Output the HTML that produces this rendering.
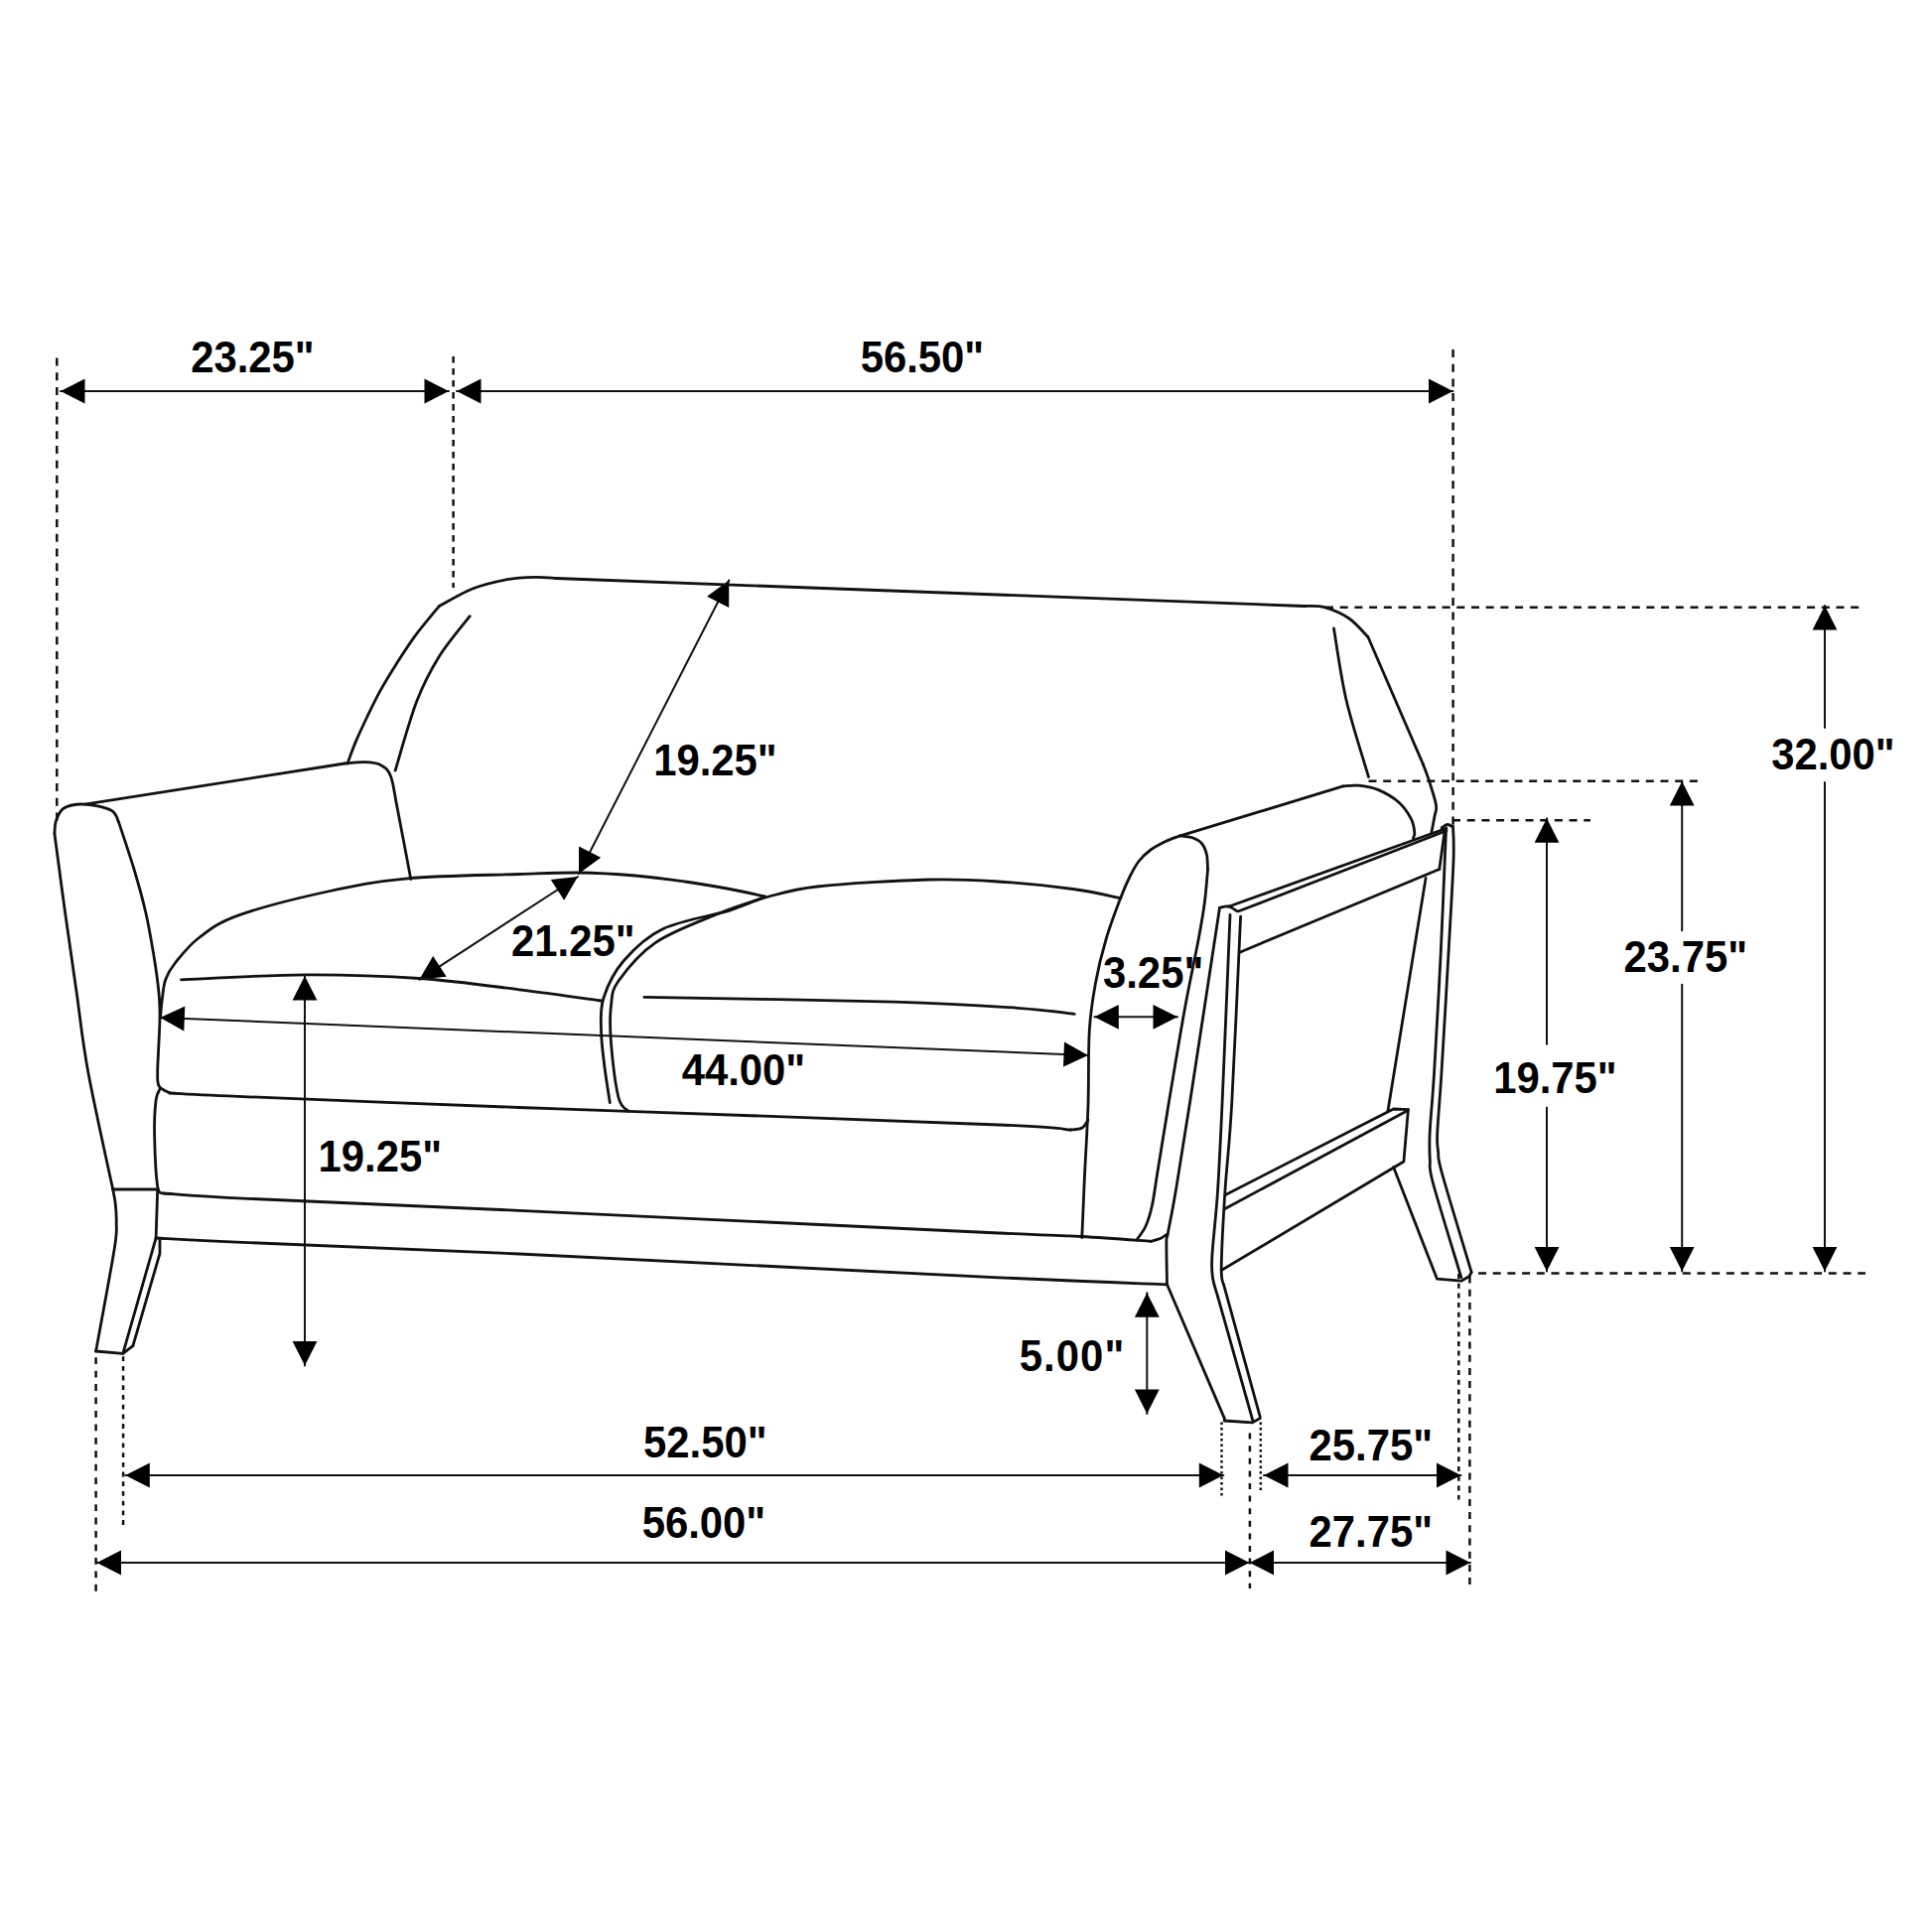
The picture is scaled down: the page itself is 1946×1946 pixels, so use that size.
<!DOCTYPE html>
<html><head><meta charset="utf-8"><style>
html,body{margin:0;padding:0;background:#fff;width:1946px;height:1946px;overflow:hidden}
svg{display:block}
text{font-family:"Liberation Sans",sans-serif;font-weight:bold;fill:#000;stroke:none}
</style></head><body>
<svg width="1946" height="1946" viewBox="0 0 1946 1946">
<rect width="1946" height="1946" fill="#fff"/>
<g fill="none" stroke="#111" stroke-linecap="round" stroke-linejoin="round">
<line x1="57.3" y1="360.4" x2="57.3" y2="828" stroke-width="2.5" stroke-dasharray="8 6.78" stroke-linecap="butt"/>
<line x1="456.6" y1="359" x2="456.6" y2="592" stroke-width="2.5" stroke-dasharray="6.5 5.5" stroke-linecap="butt"/>
<line x1="1463.6" y1="352" x2="1463.6" y2="836" stroke-width="2.5" stroke-dasharray="8 6.7" stroke-linecap="butt"/>
<line x1="61" y1="394" x2="452" y2="394" stroke-width="2.0"/>
<polygon points="452,394 427.5,406.4 427.5,381.6" fill="#000" stroke="none"/>
<polygon points="61,394 85.5,381.6 85.5,406.4" fill="#000" stroke="none"/>
<line x1="460" y1="394" x2="1463.5" y2="394" stroke-width="2.0"/>
<polygon points="1463.5,394 1439,406.4 1439,381.6" fill="#000" stroke="none"/>
<polygon points="460,394 484.5,381.6 484.5,406.4" fill="#000" stroke="none"/>
<text transform="translate(192.2,374.5) scale(0.94,1)" font-size="44.5">23.25&quot;</text>
<text transform="translate(866.7,375.3) scale(0.94,1)" font-size="44.5">56.50&quot;</text>
<line x1="1335" y1="611.8" x2="1876" y2="611.8" stroke-width="2.5" stroke-dasharray="8 6.7" stroke-linecap="butt"/>
<line x1="1378.5" y1="786.8" x2="1713" y2="786.8" stroke-width="2.5" stroke-dasharray="8 6.7" stroke-linecap="butt"/>
<line x1="1463" y1="826.2" x2="1602" y2="826.2" stroke-width="2.5" stroke-dasharray="8 6.7" stroke-linecap="butt"/>
<line x1="1489" y1="1282.4" x2="1879" y2="1282.4" stroke-width="2.5" stroke-dasharray="8 6.7" stroke-linecap="butt"/>
<line x1="1838" y1="610" x2="1838" y2="733" stroke-width="2.0"/>
<line x1="1838" y1="788" x2="1838" y2="1280.5" stroke-width="2.0"/>
<polygon points="1838,610 1850.4,634.5 1825.6,634.5" fill="#000" stroke="none"/>
<polygon points="1838,1280.5 1825.6,1256 1850.4,1256" fill="#000" stroke="none"/>
<text transform="translate(1784.2,774.6) scale(0.94,1)" font-size="44.5">32.00&quot;</text>
<line x1="1694.2" y1="787" x2="1694.2" y2="937.3" stroke-width="2.0"/>
<line x1="1694.2" y1="991.8" x2="1694.2" y2="1280.5" stroke-width="2.0"/>
<polygon points="1694.2,787 1706.6,811.5 1681.8,811.5" fill="#000" stroke="none"/>
<polygon points="1694.2,1280.5 1681.8,1256 1706.6,1256" fill="#000" stroke="none"/>
<text transform="translate(1635.5,979.4) scale(0.94,1)" font-size="44.5">23.75&quot;</text>
<line x1="1558" y1="824.3" x2="1558" y2="1051.8" stroke-width="2.0"/>
<line x1="1558" y1="1115.5" x2="1558" y2="1280.5" stroke-width="2.0"/>
<polygon points="1558,824.3 1570.4,848.8 1545.6,848.8" fill="#000" stroke="none"/>
<polygon points="1558,1280.5 1545.6,1256 1570.4,1256" fill="#000" stroke="none"/>
<text transform="translate(1504.2,1101.4) scale(0.94,1)" font-size="44.5">19.75&quot;</text>
<line x1="307" y1="983" x2="307" y2="1375.5" stroke-width="2.0"/>
<polygon points="307,1375.5 294.6,1351 319.4,1351" fill="#000" stroke="none"/>
<polygon points="307,983 319.4,1007.5 294.6,1007.5" fill="#000" stroke="none"/>
<text transform="translate(320.5,1179.6) scale(0.94,1)" font-size="44.5">19.25&quot;</text>
<line x1="1155.3" y1="1302.3" x2="1155.3" y2="1424" stroke-width="2.0"/>
<polygon points="1155.3,1424 1142.9,1399.5 1167.7,1399.5" fill="#000" stroke="none"/>
<polygon points="1155.3,1302.3 1167.7,1326.8 1142.9,1326.8" fill="#000" stroke="none"/>
<text transform="translate(1026.7,1380.6) scale(0.94,1)" font-size="44.5" letter-spacing="1.15">5.00&quot;</text>
<line x1="734.3" y1="584.5" x2="583" y2="880" stroke-width="2.0"/>
<polygon points="583,880 583.1,852.5 605.2,863.8" fill="#000" stroke="none"/>
<polygon points="734.3,584.5 734.2,612 712.1,600.7" fill="#000" stroke="none"/>
<text transform="translate(658.2,780.9) scale(0.94,1)" font-size="44.5">19.25&quot;</text>
<line x1="582" y1="883" x2="422.4" y2="986.6" stroke-width="2.0"/>
<polygon points="422.4,986.6 436.2,962.9 449.7,983.7" fill="#000" stroke="none"/>
<polygon points="582,883 568.2,906.7 554.7,885.9" fill="#000" stroke="none"/>
<text transform="translate(515,962.6) scale(0.94,1)" font-size="44.5">21.25&quot;</text>
<line x1="161.3" y1="1025" x2="1096" y2="1063" stroke-width="2.0"/>
<polygon points="1096,1063 1071,1074.4 1072,1049.6" fill="#000" stroke="none"/>
<polygon points="161.3,1025 186.3,1013.6 185.3,1038.4" fill="#000" stroke="none"/>
<text transform="translate(686.7,1092.6) scale(0.94,1)" font-size="44.5">44.00&quot;</text>
<line x1="1102.3" y1="1024.3" x2="1186" y2="1024.3" stroke-width="2.0"/>
<polygon points="1186,1024.3 1161.5,1036.7 1161.5,1011.9" fill="#000" stroke="none"/>
<polygon points="1102.3,1024.3 1126.8,1011.9 1126.8,1036.7" fill="#000" stroke="none"/>
<text transform="translate(1111,994.6) scale(0.94,1)" font-size="44.5">3.25&quot;</text>
<line x1="96.6" y1="1367.2" x2="96.6" y2="1603.5" stroke-width="2.5" stroke-dasharray="6.8 6.65" stroke-linecap="butt"/>
<line x1="124.1" y1="1366.2" x2="124.1" y2="1537" stroke-width="2.5" stroke-dasharray="4.8 4.9" stroke-linecap="butt"/>
<line x1="1230.5" y1="1432.5" x2="1230.5" y2="1508.5" stroke-width="2.5" stroke-dasharray="2.6 2.9" stroke-linecap="butt"/>
<line x1="1258.9" y1="1443.6" x2="1258.9" y2="1600" stroke-width="2.5" stroke-dasharray="6 6.6" stroke-linecap="butt"/>
<line x1="1269.8" y1="1432.5" x2="1269.8" y2="1504" stroke-width="2.5" stroke-dasharray="2.6 2.9" stroke-linecap="butt"/>
<line x1="1469.3" y1="1283" x2="1469.3" y2="1510.5" stroke-width="2.5" stroke-dasharray="5 4.7" stroke-linecap="butt"/>
<line x1="1480.4" y1="1285.5" x2="1480.4" y2="1596.6" stroke-width="2.5" stroke-dasharray="7 6.2" stroke-linecap="butt"/>
<line x1="126.3" y1="1486" x2="1232.3" y2="1486" stroke-width="2.0"/>
<polygon points="1232.3,1486 1207.8,1498.4 1207.8,1473.6" fill="#000" stroke="none"/>
<polygon points="126.3,1486 150.8,1473.6 150.8,1498.4" fill="#000" stroke="none"/>
<line x1="1273" y1="1486" x2="1471.5" y2="1486" stroke-width="2.0"/>
<polygon points="1471.5,1486 1447,1498.4 1447,1473.6" fill="#000" stroke="none"/>
<polygon points="1273,1486 1297.5,1473.6 1297.5,1498.4" fill="#000" stroke="none"/>
<line x1="97.5" y1="1574" x2="1258.5" y2="1574" stroke-width="2.0"/>
<polygon points="1258.5,1574 1234,1586.4 1234,1561.6" fill="#000" stroke="none"/>
<polygon points="97.5,1574 122,1561.6 122,1586.4" fill="#000" stroke="none"/>
<line x1="1258.5" y1="1574" x2="1481" y2="1574" stroke-width="2.0"/>
<polygon points="1481,1574 1456.5,1586.4 1456.5,1561.6" fill="#000" stroke="none"/>
<polygon points="1258.5,1574 1283,1561.6 1283,1586.4" fill="#000" stroke="none"/>
<text transform="translate(648,1468.1) scale(0.94,1)" font-size="44.5">52.50&quot;</text>
<text transform="translate(1318.5,1470.6) scale(0.94,1)" font-size="44.5">25.75&quot;</text>
<text transform="translate(646.7,1549.4) scale(0.94,1)" font-size="44.5">56.00&quot;</text>
<text transform="translate(1318.5,1558.1) scale(0.94,1)" font-size="44.5">27.75&quot;</text>
<path d="M350,769.1 C351.4,765.3 355.2,754.4 358.6,746.4 C362,738.4 366.2,729.6 370.2,721.2 C374.2,712.8 378.2,704.5 382.8,696.1 C387.4,687.7 392,680.1 397.9,670.9 C403.8,661.7 410.6,650.8 418,640.7 C425.4,630.6 438.4,615.5 442.5,610.4" stroke-width="2.8"/>
<path d="M442.5,610.4 C448.2,607.5 465.2,597.2 476.6,592.8 C488,588.3 500.4,585.6 510.8,583.7 C521.2,581.8 531.1,581.6 539.3,581.4 C547.5,581.2 556.5,582.3 560,582.5" stroke-width="2.8"/>
<polyline points="560,582.5 1313.5,610.5" stroke-width="2.8"/>
<path d="M1313.5,610.5 C1316.9,610.7 1326.4,609.5 1334,611.6 C1341.6,613.7 1351.7,618 1359,623 C1366.3,628 1374.8,638.6 1378,641.7" stroke-width="2.8"/>
<polyline points="1378,641.7 1433.5,770" stroke-width="2.8"/>
<path d="M1433.5,770 C1434.5,772.8 1437.3,779.8 1439.5,786.6 C1441.7,793.4 1445.6,805.1 1446.5,811 C1447.4,816.9 1445.8,817.5 1445,822 C1444.2,826.5 1442.4,835.6 1441.9,838.3" stroke-width="2.8"/>
<path d="M398.1,776.1 C401.7,764.5 412.3,725.8 419.7,706.6 C427.1,687.4 433.6,675.4 442.5,661.1 C451.4,646.8 468.1,627.4 473.2,620.7" stroke-width="2.8"/>
<path d="M1343.5,633 C1345.6,645 1350.2,680.1 1356,705 C1361.8,729.9 1374.8,769.6 1378.5,782.5" stroke-width="2.8"/>
<path d="M54.9,839.5 C55.2,837.3 55,830.6 56.6,826.3 C58.2,822 60,816.5 64.8,813.8 C69.6,811.1 77.6,809.7 85.5,810.1 C93.4,810.5 106.3,813.3 112,816.3 C117.7,819.3 118.2,826 119.5,827.9" stroke-width="2.8"/>
<polyline points="85.5,810.1 347.5,769" stroke-width="2.8"/>
<path d="M347.5,769 C350.8,768.8 361.3,767.4 367.3,767.6 C373.3,767.8 378.9,768 383.3,770.4 C387.7,772.8 390.7,774.7 393.5,781.8 C396.3,788.9 396.6,795.7 400,813 C403.4,830.3 411.5,873.4 413.8,885.5" stroke-width="2.8"/>
<path d="M54.9,839.5 C55.8,846.2 58.5,866.6 60.3,880 C62.1,893.4 62.9,900 65.7,920 C68.5,940 73.4,973.3 77.2,1000 C81,1026.7 82.7,1047 88.8,1080 C94.9,1113 109.5,1178.3 113.7,1198" stroke-width="2.8"/>
<path d="M113.7,1198 C114.1,1200.5 115.7,1207.3 116.3,1213 C116.9,1218.7 117.4,1224.5 117.2,1232 C117,1239.5 118.6,1236.5 115.2,1258 C111.8,1279.5 99.7,1343.8 96.6,1361" stroke-width="2.8"/>
<polyline points="96.6,1361 123.8,1363.4 133.9,1355.6" stroke-width="2.8"/>
<polyline points="123.8,1363.4 157.1,1247" stroke-width="2.8"/>
<polyline points="133.9,1355.6 161,1262.5 161,1247.7" stroke-width="2.8"/>
<path d="M119.5,827.9 C122.1,835.8 130.4,860.1 135,875.5 C139.6,890.9 143.7,905.4 147,920 C150.3,934.6 152.8,949.7 155,963 C157.2,976.3 159,989.7 160,1000 C161,1010.3 161.1,1015 161,1025 C160.9,1035 159.9,1050.8 159.5,1060 C159.1,1069.2 158.6,1074.3 158.7,1080 C158.8,1085.7 158.1,1090.5 160.2,1094 C162.3,1097.5 169.3,1099.8 171.1,1101" stroke-width="2.8"/>
<polyline points="113.7,1198 158.7,1198" stroke-width="2.8"/>
<path d="M161.5,1025 C161.8,1021.7 162.6,1011.4 163.5,1005 C164.4,998.6 164.7,992.3 166.8,986.5 C169,980.7 170.8,977 176.4,970 C182,963 189.9,952.5 200.5,944.5 C211.1,936.5 218.2,929.9 239.8,922.1 C261.4,914.4 301.5,904.2 330,898 C358.5,891.8 378.4,887.7 410.6,884.8 C442.8,881.9 494.3,881.5 523,880.5 C551.7,879.5 563.5,878.8 583,879 C602.5,879.2 622.2,880.5 640,882 C657.8,883.5 674.2,885.8 690,888 C705.8,890.2 721.6,893 735,895.5 C748.4,898 764.6,901.8 770.5,903" stroke-width="2.8"/>
<path d="M770.5,903 C764.7,905.3 752.6,911.4 735.5,916.8 C718.4,922.2 685.9,927 668,935.5 C650.1,944 638,956.4 628,968 C618,979.6 611.8,993.3 608,1005 C604.2,1016.7 605.3,1026.3 605.5,1038 C605.7,1049.7 607.5,1062.9 609,1075 C610.5,1087.1 613.4,1104.6 614.3,1110.5" stroke-width="2.8"/>
<path d="M182.5,986.8 C203.3,986 267.5,982 307.5,981.8 C347.5,981.6 386.6,983 422.5,985.5 C458.4,988 492.5,993 523,996.8 C553.5,1000.5 591.8,1006.1 605.5,1008" stroke-width="2.8"/>
<path d="M171.1,1101 C184.2,1101.6 191.3,1102.4 250,1104.8 C308.6,1107.2 459.2,1113.1 523,1115.5 C586.8,1117.9 552.5,1116.4 633,1119.3 C713.5,1122.2 931.8,1129.9 1006,1133 C1080.2,1136.1 1066.4,1137.2 1078.5,1138" stroke-width="2.8"/>
<path d="M1078.5,1138 C1080.4,1137.7 1087.1,1137.7 1090,1136 C1092.9,1134.3 1095,1129.3 1096,1128" stroke-width="2.8"/>
<path d="M770.5,904 C779.2,902.2 795.5,896 823,893 C850.5,890 905,886.8 935.5,886 C966,885.2 981.8,886.4 1006,888 C1030.2,889.6 1060.5,892.7 1081,895.5 C1101.5,898.3 1121,903.1 1129,904.6" stroke-width="2.8"/>
<path d="M770.5,904 C762.6,906.8 741.3,913 723,920.5 C704.7,928 677.2,938 660.5,949.3 C643.8,960.5 630.5,977.4 623,988 C615.5,998.6 616.8,1002.6 615.5,1013 C614.2,1023.4 614.2,1035.1 615.5,1050.5 C616.8,1065.9 620.1,1094 623,1105.5 C625.9,1117 631.3,1117 633,1119.3" stroke-width="2.8"/>
<path d="M648.9,1004.4 C690.9,1005.2 838,1007.3 900.6,1009.1 C963.2,1010.9 994.5,1013.3 1024.8,1015.3 C1055.1,1017.3 1072.6,1020.3 1082.2,1021.3" stroke-width="2.8"/>
<path d="M161,1097 C160.3,1098.8 158,1100.5 157.1,1108 C156.2,1115.5 155.3,1127.5 155.6,1142 C155.9,1156.5 157.1,1185 158.7,1195 C160.2,1205 163.9,1200.8 164.9,1202" stroke-width="2.8"/>
<path d="M164.9,1202 C179.1,1202.9 190.3,1204.4 250,1207.3 C309.7,1210.2 397,1213.5 523,1219.3 C649,1225.1 911.5,1237.6 1006,1242 C1100.5,1246.4 1064.2,1244.1 1089.8,1245.5 C1115.4,1246.9 1147.8,1249.5 1159.4,1250.3" stroke-width="2.8"/>
<path d="M1159.4,1250.3 C1161.1,1249.8 1166.5,1248.4 1169.3,1247.2 C1172.1,1246 1175,1243.6 1176.1,1242.9" stroke-width="2.8"/>
<polyline points="158.7,1198 157.1,1247" stroke-width="2.8"/>
<path d="M157.1,1247 C172.6,1247.8 189,1248.9 250,1251.6 C311,1254.3 397,1257.1 523,1263 C649,1268.9 897.2,1281.7 1006,1286.8 C1114.8,1291.9 1147.2,1292.6 1175.5,1293.8" stroke-width="2.8"/>
<polyline points="1188,842.2 1352.9,791.9" stroke-width="2.8"/>
<path d="M1352.9,791.9 C1355.5,791.8 1362.5,790.6 1368.3,791.2 C1374.1,791.8 1381,792.6 1387.8,795.4 C1394.5,798.2 1403.2,803.1 1408.8,808 C1414.4,812.9 1418.7,819.7 1421.4,824.8 C1424.1,829.9 1424.5,835.5 1424.8,838.7 C1425.1,842 1423.7,843.4 1423.5,844.3" stroke-width="2.8"/>
<path d="M1216.5,876 C1216.3,873.5 1216.5,865.4 1215.5,861 C1214.5,856.6 1212.8,852.4 1210.4,849.5 C1208,846.6 1204.6,845.1 1201,843.8 C1197.4,842.5 1190.7,842.1 1188.6,841.8" stroke-width="2.8"/>
<path d="M1188.6,841.8 C1186.2,842.8 1178.9,845.1 1174,847.5 C1169.1,849.9 1163.5,852.7 1159,856 C1154.5,859.3 1150.5,863 1147,867.5 C1143.5,872 1141,877 1138,883 C1135,889 1133,893.3 1129,903.8 C1125,914.3 1118.3,931.6 1114.1,946 C1109.8,960.4 1106.3,974.7 1103.5,990 C1100.7,1005.3 1098.5,1017.5 1097.3,1038 C1096,1058.5 1096.8,1088 1096,1113 C1095.2,1138 1093.3,1165.7 1092.3,1188 C1091.3,1210.3 1090.2,1236.8 1089.8,1246.6" stroke-width="2.8"/>
<path d="M1216.5,876 C1216,881.7 1214.8,898.3 1213.2,910 C1211.7,921.7 1210.5,928.3 1207.2,946 C1203.9,963.7 1198.3,989.1 1193.3,1016.4 C1188.3,1043.7 1182,1082.7 1177.4,1110 C1172.9,1137.3 1168.8,1162.7 1166,1180 C1163.2,1197.3 1162.5,1204.8 1160.5,1214 C1158.5,1223.2 1156.5,1229.4 1154,1235 C1151.5,1240.6 1147.1,1245.7 1145.7,1247.8" stroke-width="2.8"/>
<path d="M1228.5,914.3 C1223.5,946.9 1206,1062.4 1198.6,1110 C1191.2,1157.6 1188,1177.8 1184.2,1200 C1180.5,1222.2 1177.6,1234.8 1176.1,1243.5 C1174.5,1252.2 1175,1243.8 1174.9,1252.2 C1174.8,1260.6 1175.4,1286.9 1175.5,1293.8" stroke-width="2.8"/>
<polyline points="1175.5,1293.8 1233.3,1428.6 1233.3,1431" stroke-width="2.8"/>
<polyline points="1233.3,1431 1261.2,1432.9 1269.3,1428.6" stroke-width="2.8"/>
<path d="M1228.5,914.3 C1230,914.1 1234.4,912.3 1237.3,912.9 C1240.2,913.5 1244.6,917 1246.1,917.8" stroke-width="2.8"/>
<path d="M1239,921.4 C1237.7,952.8 1233.2,1063.6 1231.1,1110 C1229,1156.4 1228.2,1174.2 1226.5,1200 C1224.8,1225.8 1221.7,1250.1 1220.9,1264.6 C1220.1,1279.1 1220.6,1280.2 1221.5,1287 C1222.4,1293.8 1225.7,1302.5 1226.5,1305.6" stroke-width="2.8"/>
<polyline points="1226.5,1305.6 1261.9,1431" stroke-width="2.8"/>
<path d="M1249.6,923.1 C1248.1,954.2 1243.4,1063.8 1240.8,1110 C1238.2,1156.2 1235.7,1172.2 1233.9,1200 C1232.1,1227.8 1230.4,1261.3 1230.2,1277 C1230,1292.7 1232.3,1291.5 1232.7,1294.4" stroke-width="2.8"/>
<polyline points="1232.7,1294.4 1269.3,1427.3" stroke-width="2.8"/>
<polyline points="1237.3,913.3 1457,834.3" stroke-width="2.8"/>
<polyline points="1247.8,917.8 1456.9,836.8" stroke-width="2.8"/>
<polyline points="1248.7,959.2 1449.8,875.5" stroke-width="2.8"/>
<polyline points="1455,838 1449.8,875.5" stroke-width="2.8"/>
<path d="M1452,834 C1453,833.4 1456,830.6 1458,830.5 C1460,830.4 1462.8,832.7 1463.7,833.1" stroke-width="2.8"/>
<path d="M1456.5,836 C1455.6,856.7 1453.2,919.3 1451.2,960 C1449.2,1000.7 1446.4,1050 1444.6,1080 C1442.8,1110 1440.9,1125.3 1440.2,1140 C1439.5,1154.7 1439.8,1159.3 1440.3,1168 C1440.8,1176.7 1438.2,1172.2 1443.5,1192 C1448.8,1211.8 1467.1,1270.8 1471.8,1286.6" stroke-width="2.8"/>
<path d="M1463.5,832 C1463.6,837.8 1464.8,845.7 1464,867 C1463.2,888.3 1461,924.5 1459,960 C1457,995.5 1453.9,1050 1452,1080 C1450.1,1110 1448.4,1126.7 1447.8,1140 C1447.2,1153.3 1447.8,1153 1448.6,1160 C1449.4,1167 1446.9,1161.8 1452.5,1182 C1458.1,1202.2 1477.2,1264.8 1482.1,1281.4" stroke-width="2.8"/>
<polyline points="1403.6,1175.6 1447.4,1288.1 1471.8,1290.2 1480,1285.5 1482.1,1281.4" stroke-width="2.8"/>
<polyline points="1436.1,884.4 1397.9,1119.3" stroke-width="2.8"/>
<polyline points="1233.9,1203.7 1403.6,1117 1418.4,1117.6" stroke-width="2.8"/>
<polyline points="1233.9,1217.5 1416.1,1119.6" stroke-width="2.8"/>
<polyline points="1418.4,1117.6 1413.9,1170 1230.2,1279.5" stroke-width="2.8"/>
</g>
</svg>
</body></html>
